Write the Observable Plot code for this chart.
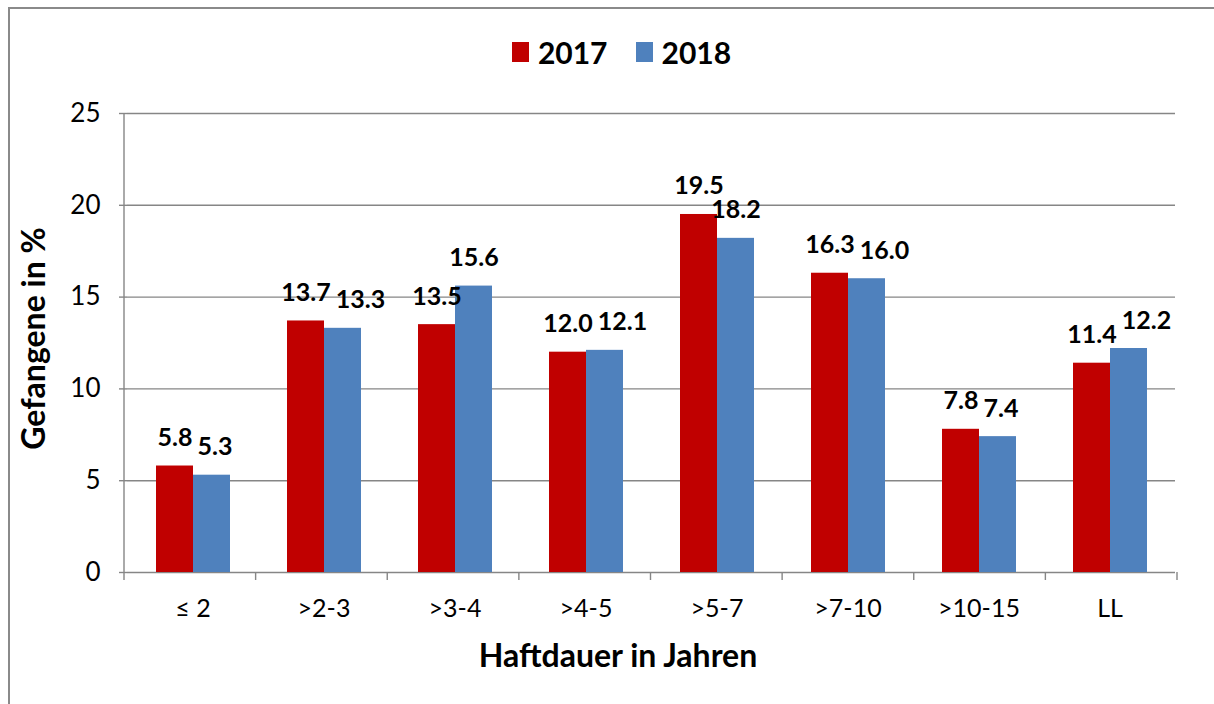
<!DOCTYPE html>
<html>
<head>
<meta charset="utf-8">
<script src="https://cdn.jsdelivr.net/npm/d3@7"></script>
<script src="https://cdn.jsdelivr.net/npm/@observablehq/plot@0.6"></script>
<style>
  html, body { margin: 0; padding: 0; background: white; overflow: hidden; }
  #wrap { position: relative; width: 1214px; height: 704px; font-family: Lato, "Open Sans", sans-serif; }
  #frame { position: absolute; left: 8px; top: 7px; width: 1300px; height: 800px; border: 2px solid #8a8a8a; pointer-events: none; z-index: 2; }
  #legend { position: absolute; top: 34px; left: 0; width: 1214px; box-sizing: border-box; padding-left: 29px; display: flex; justify-content: center; align-items: center; font-weight: bold; font-size: 30px; line-height: 36px; z-index: 1; }
  .item { display: flex; align-items: center; margin: 0 14px; }
  .sw { width: 17px; height: 20px; margin-right: 9px; }
  #chart { position: absolute; left: 0; top: 0; }
</style>
</head>
<body>
<div id="wrap">
  <div id="legend"></div>
  <div id="chart"></div>
  <div id="frame"></div>
</div>
<script>
const categories = ["≤ 2", ">2-3", ">3-4", ">4-5", ">5-7", ">7-10", ">10-15", "LL"];
const years = ["2017", "2018"];
const values2017 = [5.8, 13.7, 13.5, 12.0, 19.5, 16.3, 7.8, 11.4];
const values2018 = [5.3, 13.3, 15.6, 12.1, 18.2, 16.0, 7.4, 12.2];
const yTicks = [0, 5, 10, 15, 20, 25];
const colors = ["#C00000", "#4F81BD"];
const xTitle = "Haftdauer in Jahren";
const yTitle = "Gefangene in %";

const data = [];
categories.forEach((c, i) => {
  data.push({cat: c, year: "2017", value: values2017[i]});
  data.push({cat: c, year: "2018", value: values2018[i]});
});

// legend
const legend = document.getElementById("legend");
years.forEach((y, i) => {
  const it = document.createElement("div");
  it.className = "item";
  it.innerHTML = `<div class="sw" style="background:${colors[i]}"></div><span>${y}</span>`;
  legend.appendChild(it);
});

const W = 1214, H = 704;
const mL = 124, mR = 37, mT = 113, mB = 132;
const grid = "#868686";

const plot = Plot.plot({
  width: W,
  height: H,
  marginLeft: mL,
  marginRight: mR,
  marginTop: mT,
  marginBottom: mB,
  style: {fontFamily: 'Lato, "Open Sans", sans-serif', fontSize: "25px", background: "transparent", color: "black", overflow: "visible"},
  fx: {domain: categories, padding: 0, label: null},
  x: {domain: years, paddingInner: 0, paddingOuter: 0.76, axis: null},
  y: {domain: [0, 25], label: null},
  color: {domain: years, range: colors},
  marks: [
    Plot.gridY(yTicks, {stroke: grid, strokeOpacity: 1, strokeWidth: 1.4}),
    Plot.barY(data, {fx: "cat", x: "year", y: "value", fill: "year"}),
    Plot.text(data, {fx: "cat", x: "year", y: "value", text: d => d.value.toFixed(1), lineAnchor: "bottom", dy: -20, fontSize: 25, fontWeight: "bold", fill: "black"}),
    Plot.axisY(yTicks, {tickSize: 8, tickPadding: 19, fontSize: 26, label: null, stroke: grid, strokeWidth: 1.4}),
    Plot.axisFx({anchor: "bottom", tickSize: 0, tickPadding: 27, fontSize: 25, label: null})
  ]
});

document.getElementById("chart").appendChild(plot);

const svg = d3.select(plot);
const ys = plot.scale("y");
const yLin = d3.scaleLinear(ys.domain, ys.range);
const y0 = yLin(0);

// nudge overlapping value labels apart (the 2018 label moves right of the 2017 label)
const labels = Array.from(plot.querySelectorAll("text"))
  .filter(t => /^\d+\.\d$/.test(t.textContent.trim()))
  .map(t => ({t, r: t.getBoundingClientRect(), v: +t.textContent}))
  .sort((a, b) => (a.r.left + a.r.width / 2) - (b.r.left + b.r.width / 2));
for (let i = 0; i + 1 < labels.length; i += 2) {
  const a = labels[i], b = labels[i + 1];
  const vertOverlap = Math.abs(yLin(a.v) - yLin(b.v)) < 20;
  const overlap = a.r.right + 5 - b.r.left;
  if (vertOverlap && overlap > 0) b.t.setAttribute("dx", overlap);
}

// extra axis decorations derived from the scales
const fxs = plot.scale("fx");
const band = d3.scaleBand(fxs.domain, fxs.range).paddingInner(fxs.paddingInner ?? 0).paddingOuter(fxs.paddingOuter ?? 0);
const g = svg.append("g").attr("stroke", grid).attr("stroke-width", 1.4);
g.append("line").attr("x1", mL).attr("x2", mL).attr("y1", yLin(25)).attr("y2", y0);
const edges = categories.map(c => band(c)).concat([band(categories[categories.length - 1]) + band.bandwidth()]);
edges.forEach(x => g.append("line").attr("x1", x).attr("x2", x).attr("y1", y0).attr("y2", y0 + 8));

// axis titles
svg.append("text").text(xTitle)
  .attr("x", 618).attr("y", 667)
  .attr("text-anchor", "middle").attr("font-size", 32).attr("font-weight", "bold").attr("fill", "black");
svg.append("text").text(yTitle)
  .attr("transform", `translate(45, ${(yLin(25) + y0) / 2 - 4}) rotate(-90)`)
  .attr("text-anchor", "middle").attr("font-size", 32).attr("font-weight", "bold").attr("fill", "black");
</script>
</body>
</html>
